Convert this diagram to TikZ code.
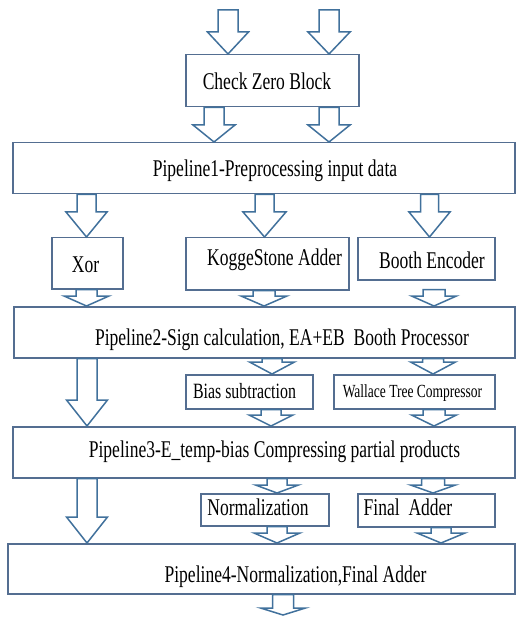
\documentclass[tikz,border=0pt]{standalone}
\usepackage{fontspec}
\setmainfont[FakeStretch=0.73]{Liberation Serif}
\usetikzlibrary{calc}
\definecolor{boxcol}{RGB}{84,110,145}
\definecolor{arrcol}{RGB}{65,113,156}
\tikzset{
  box/.style={draw=boxcol, line width=1.5pt, inner sep=0pt, anchor=north west},
  lbl/.style={anchor=base, inner sep=0pt, font=\fontsize{24}{28}\selectfont},
  lblsmall/.style={anchor=base, inner sep=0pt, font=\fontsize{21.8}{26}\selectfont},
  lbltiny/.style={anchor=base, inner sep=0pt, font=\fontsize{18.5}{22}\selectfont},
  barr/.style={draw=arrcol, fill=white, line width=1.5pt, line join=miter}
}
% #1 x, #2 from, #3 to, #4 shaft half width, #5 head half width, #6 head length
\newcommand\blk[6]{%
  \draw[barr] let \p1=(#2), \p2=(#3) in
   (#1pt-#4pt,\y1) -- (#1pt+#4pt,\y1) -- (#1pt+#4pt,\y2+#6pt) -- (#1pt+#5pt,\y2+#6pt)
   -- (#1pt,\y2) -- (#1pt-#5pt,\y2+#6pt) -- (#1pt-#4pt,\y2+#6pt) -- cycle;}
\begin{document}
\begin{tikzpicture}[x=1pt,y=1pt]
\useasboundingbox (0,0) rectangle (515,-617);
% boxes
\node[box, minimum width=173pt, minimum height=52pt] (ck) at (185,-54) {};
\node[box, minimum width=502pt, minimum height=51pt] (p1) at (12,-142) {};
\node[box, minimum width=71pt,  minimum height=51pt] (xor) at (51,-237) {};
\node[box, minimum width=163pt, minimum height=52pt] (ks) at (185,-237) {};
\node[box, minimum width=137pt, minimum height=42pt] (be) at (357,-237) {};
\node[box, minimum width=501pt, minimum height=51pt] (p2) at (13,-306) {};
\node[box, minimum width=127pt, minimum height=34pt] (bs) at (185,-374) {};
\node[box, minimum width=161pt, minimum height=34pt] (wt) at (333,-374) {};
\node[box, minimum width=502pt, minimum height=51pt] (p3) at (12,-426) {};
\node[box, minimum width=128pt, minimum height=32pt] (nm) at (200,-493) {};
\node[box, minimum width=137pt, minimum height=33pt] (fa) at (357,-493) {};
\node[box, minimum width=507pt, minimum height=50pt] (p4) at (7,-543) {};
% labels
\node[lbl] (ckt) at (267,-90) {Check Zero Block};
\node[lbl] (p1t) at (275,-177) {Pipeline1-Preprocessing input data};
\node[lbl] (xort) at (85.5,-272) {Xor};
\node[lbl] (kst) at (274.5,-265) {KoggeStone Adder};
\node[lbl] (bet) at (432,-268) {Booth Encoder};
\node[lbl] (p2t) at (282,-345) {Pipeline2-Sign calculation, EA+EB\ \ Booth Processor};
\node[lblsmall] (bst) at (244.5,-398) {Bias subtraction};
\node[lbltiny] (wtt) at (412.5,-397) {Wallace Tree Compressor};
\node[lbl] (p3t) at (274.5,-457) {Pipeline3-E\_temp-bias Compressing partial products};
\node[lbl] (nmt) at (258,-515) {Normalization};
\node[lbl] (fat) at (408,-515) {Final\ \ Adder};
\node[lbl] (p4t) at (295.5,-582) {Pipeline4-Normalization,Final Adder};
% free ends
\coordinate (inA) at (228,-10);
\coordinate (inB) at (329,-10);
\coordinate (out) at (283,-615);
% arrows
\blk{228}{inA}{ck.north}{10}{20.5}{22}
\blk{329}{inB}{ck.north}{10}{21}{22}
\blk{214}{ck.south}{p1.north}{10}{21}{17}
\blk{329}{ck.south}{p1.north}{10}{21}{17}
\blk{86.5}{p1.south}{xor.north}{9.5}{20.5}{25}
\blk{264.5}{p1.south}{ks.north}{9.5}{21.5}{25}
\blk{429.5}{p1.south}{be.north}{9}{20.5}{25}
\blk{86.5}{xor.south}{p2.north}{10.5}{22.5}{10}
\blk{264}{ks.south}{p2.north}{11}{23}{10}
\blk{434}{$(be.south)+(0,-9)$}{p2.north}{11}{22.5}{10}
\blk{87}{p2.south}{p3.north}{10}{20.5}{26}
\blk{272}{p2.south}{bs.north}{10}{22.5}{12}
\blk{433}{p2.south}{wt.north}{10.5}{22.5}{12}
\blk{271}{bs.south}{p3.north}{10}{22}{11}
\blk{434}{wt.south}{p3.north}{11}{22.5}{11}
\blk{87}{p3.south}{p4.north}{10}{20.5}{26}
\blk{277}{p3.south}{nm.north}{10}{21.5}{8}
\blk{433}{p3.south}{fa.north}{11.5}{22.5}{8}
\blk{277}{nm.south}{p4.north}{10}{23}{10}
\blk{441}{fa.south}{p4.north}{10}{24}{10}
\blk{283}{p4.south}{out}{10.5}{22.5}{7}
\end{tikzpicture}
\end{document}
